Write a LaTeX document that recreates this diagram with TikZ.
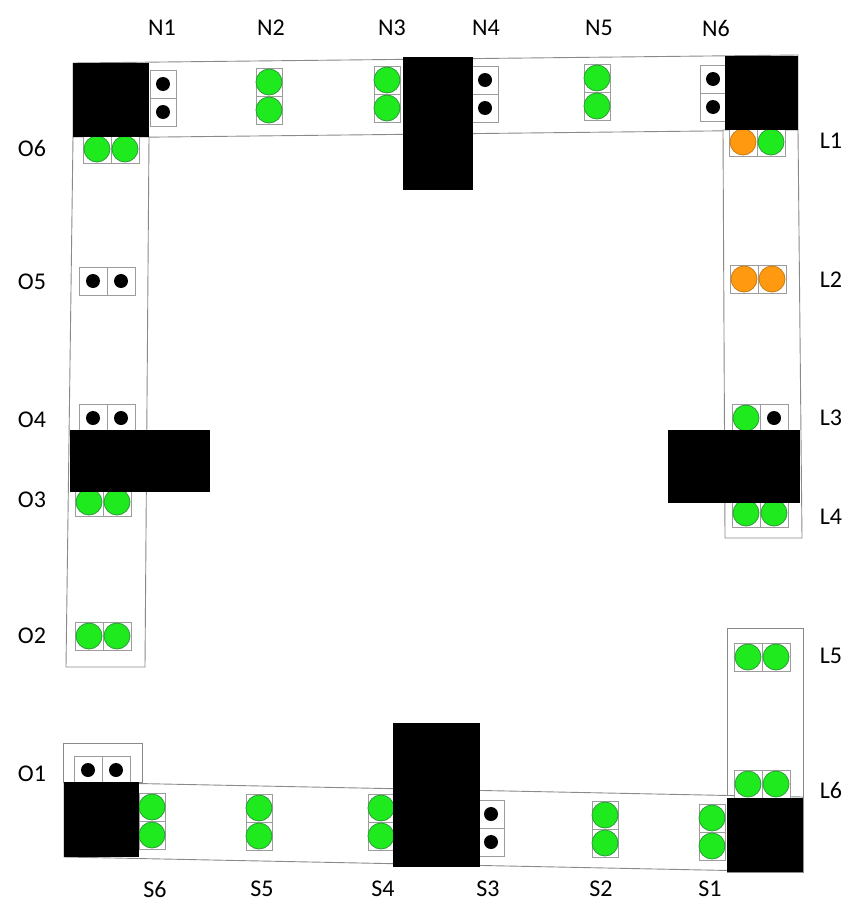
\documentclass[tikz,border=0pt]{standalone}
\usepackage{fontspec}
\setmainfont{Carlito}
\definecolor{lampgreen}{HTML}{1EEA1E}
\definecolor{lampgreenedge}{HTML}{2E9A3A}
\definecolor{lamporange}{HTML}{FF9A10}
\definecolor{lamporangeedge}{HTML}{C87A10}
\definecolor{stripline}{HTML}{8A8A8A}
\tikzset{
  strip/.style={draw=stripline, line width=0.9pt, fill=white},
  cell/.style={draw=stripline!85, line width=0.8pt, fill=white},
  block/.style={fill=black},
  gl/.style={fill=lampgreen, draw=lampgreenedge, line width=0.8pt, radius=13},
  ol/.style={fill=lamporange, draw=lamporangeedge, line width=0.8pt, radius=13},
  dl/.style={fill=black, radius=7},
  lbl/.style={font=\fontsize{24}{26}\selectfont, inner sep=0pt},
  % two-lamp head, stacked vertically
  pics/vpair/.style n args={2}{code={
    \draw[cell] (-13,-28) rectangle (13,28);
    \draw[cell] (-13,0) -- (13,0);
    \path[#1] (0,-14) circle;
    \path[#2] (0,14) circle;
  }},
  % two-lamp head, side by side
  pics/hpair/.style n args={2}{code={
    \draw[cell] (-28,-14) rectangle (28,14);
    \draw[cell] (0,-14) -- (0,14);
    \path[#1] (-14,0) circle;
    \path[#2] (14,0) circle;
  }}
}
\begin{document}
\begin{tikzpicture}[x=1pt,y=-1pt]
\useasboundingbox (0,0) rectangle (850,905);

% track strips
\draw[strip] (73,63) -- (798,55) -- (798,130) -- (73,138) -- cycle;
\draw[strip] (73,137) -- (149,137) -- (145,667) -- (66,667) -- cycle;
\draw[strip] (723,130) -- (798,130) -- (802,538) -- (725,538) -- cycle;
\draw[strip] (727,628) -- (803,628) -- (803,872) -- (727,872) -- cycle;
\draw[strip] (64,782) -- (803,797) -- (803,872) -- (64,857) -- cycle;
\draw[strip] (63,743) rectangle (142,782);

% north signals
\pic at (163,98) {vpair={dl}{dl}};
\pic at (269,96) {vpair={gl}{gl}};
\pic at (387,94) {vpair={gl}{gl}};
\pic at (485,94) {vpair={dl}{dl}};
\pic at (597,92) {vpair={gl}{gl}};
\pic at (713,93) {vpair={dl}{dl}};

% south signals
\pic at (152,821) {vpair={gl}{gl}};
\pic at (259,822) {vpair={gl}{gl}};
\pic at (381,822) {vpair={gl}{gl}};
\pic at (491,828) {vpair={dl}{dl}};
\pic at (605,829) {vpair={gl}{gl}};
\pic at (712,832) {vpair={gl}{gl}};

% west signals
\pic at (111,149) {hpair={gl}{gl}};
\pic at (107,281) {hpair={dl}{dl}};
\pic at (107,418) {hpair={dl}{dl}};
\pic at (103,502) {hpair={gl}{gl}};
\pic at (103,636) {hpair={gl}{gl}};
\pic at (102,770) {hpair={dl}{dl}};

% east signals
\pic at (757,142) {hpair={ol}{gl}};
\pic at (758,279) {hpair={ol}{ol}};
\pic at (760,418) {hpair={gl}{dl}};
\pic at (760,513) {hpair={gl}{gl}};
\pic at (762,657) {hpair={gl}{gl}};
\pic at (762,784) {hpair={gl}{gl}};

% blocks
\fill[block] (73,63) rectangle (149,137);
\fill[block] (403,57) rectangle (473,190);
\fill[block] (725,56) rectangle (798,130);
\fill[block] (70,430) rectangle (210,492);
\fill[block] (668,430) rectangle (800,503);
\fill[block] (393,723) rectangle (480,867);
\fill[block] (64,782) rectangle (139,857);
\fill[block] (727,798) rectangle (803,872);

% labels
\node[lbl] (n1) at (162,28) {N1};
\node[lbl] (n2) at (271,28) {N2};
\node[lbl] (n3) at (392,28) {N3};
\node[lbl] (n4) at (486,28) {N4};
\node[lbl] (n5) at (599,28) {N5};
\node[lbl] (n6) at (716,28) {N6};
\node[lbl] (o6) at (32,148) {O6};
\node[lbl] (o5) at (32,282) {O5};
\node[lbl] (o4) at (32,420) {O4};
\node[lbl] (o3) at (32,500) {O3};
\node[lbl] (o2) at (32,636) {O2};
\node[lbl] (o1) at (32,774) {O1};
\node[lbl] (l1) at (831,141) {L1};
\node[lbl] (l2) at (831,280) {L2};
\node[lbl] (l3) at (831,418) {L3};
\node[lbl] (l4) at (831,517) {L4};
\node[lbl] (l5) at (831,656) {L5};
\node[lbl] (l6) at (831,790) {L6};
\node[lbl] (s6) at (155,889) {S6};
\node[lbl] (s5) at (262,889) {S5};
\node[lbl] (s4) at (383,889) {S4};
\node[lbl] (s3) at (488,889) {S3};
\node[lbl] (s2) at (601,889) {S2};
\node[lbl] (s1) at (710,889) {S1};
\end{tikzpicture}
\end{document}
